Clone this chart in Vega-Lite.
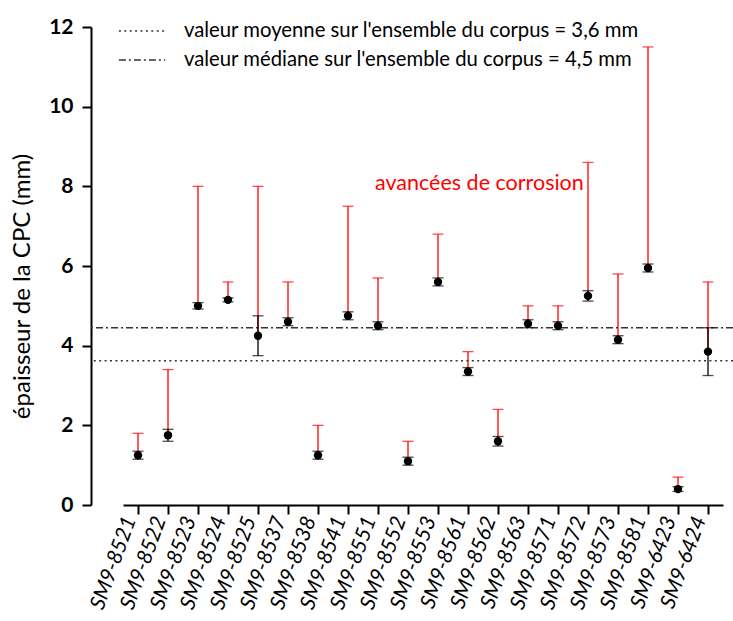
{
  "$schema": "https://vega.github.io/schema/vega-lite/v6.json",
  "width": 642,
  "height": 478,
  "autosize": {"type": "none"},
  "padding": {"left": 91, "top": 27, "right": 0, "bottom": 116},
  "background": "white",
  "config": {
    "font": "Lato",
    "view": {"stroke": null},
    "axis": {
      "domainColor": "black",
      "domainWidth": 2,
      "tickColor": "black",
      "tickWidth": 2,
      "labelColor": "black",
      "titleColor": "black",
      "grid": false
    }
  },
  "datasets": {
    "samples": [
      {"cat": "SM9-8521", "v": 1.25, "lo": 1.15, "hi": 1.35, "max": 1.8},
      {"cat": "SM9-8522", "v": 1.75, "lo": 1.6, "hi": 1.9, "max": 3.4},
      {"cat": "SM9-8523", "v": 5.0, "lo": 4.92, "hi": 5.08, "max": 8.0},
      {"cat": "SM9-8524", "v": 5.15, "lo": 5.1, "hi": 5.2, "max": 5.6},
      {"cat": "SM9-8525", "v": 4.25, "lo": 3.75, "hi": 4.75, "max": 8.0},
      {"cat": "SM9-8537", "v": 4.6, "lo": 4.5, "hi": 4.7, "max": 5.6},
      {"cat": "SM9-8538", "v": 1.25, "lo": 1.15, "hi": 1.35, "max": 2.0},
      {"cat": "SM9-8541", "v": 4.75, "lo": 4.65, "hi": 4.85, "max": 7.5},
      {"cat": "SM9-8551", "v": 4.5, "lo": 4.4, "hi": 4.6, "max": 5.7},
      {"cat": "SM9-8552", "v": 1.1, "lo": 1.0, "hi": 1.2, "max": 1.6},
      {"cat": "SM9-8553", "v": 5.6, "lo": 5.5, "hi": 5.7, "max": 6.8},
      {"cat": "SM9-8561", "v": 3.35, "lo": 3.25, "hi": 3.45, "max": 3.85},
      {"cat": "SM9-8562", "v": 1.6, "lo": 1.48, "hi": 1.72, "max": 2.4},
      {"cat": "SM9-8563", "v": 4.55, "lo": 4.45, "hi": 4.65, "max": 5.0},
      {"cat": "SM9-8571", "v": 4.5, "lo": 4.4, "hi": 4.6, "max": 5.0},
      {"cat": "SM9-8572", "v": 5.25, "lo": 5.12, "hi": 5.38, "max": 8.6},
      {"cat": "SM9-8573", "v": 4.15, "lo": 4.05, "hi": 4.25, "max": 5.8},
      {"cat": "SM9-8581", "v": 5.95, "lo": 5.85, "hi": 6.05, "max": 11.5},
      {"cat": "SM9-6423", "v": 0.4, "lo": 0.34, "hi": 0.46, "max": 0.7},
      {"cat": "SM9-6424", "v": 3.85, "lo": 3.25, "hi": 4.45, "max": 5.6}
    ],
    "refs": [
      {"label": "valeur moyenne sur l'ensemble du corpus = 3,6 mm", "v": 3.62},
      {"label": "valeur médiane sur l'ensemble du corpus = 4,5 mm", "v": 4.45}
    ],
    "note": [
      {"cat": "SM9-8551", "v": 8.05, "text": "avancées de corrosion"}
    ]
  },
  "layer": [
    {
      "data": {"name": "samples"},
      "mark": {"type": "rule", "color": "#ff0000", "strokeWidth": 1.3},
      "encoding": {
        "x": {
          "field": "cat", "type": "nominal", "sort": null,
          "scale": {"type": "point", "range": [32, 632]},
          "axis": {
            "title": null,
            "labelAngle": -70,
            "labelFontSize": 21,
            "labelFontStyle": "italic",
            "labelPadding": 3,
            "labelOffset": -8,
            "tickSize": 9
          }
        },
        "y": {
          "field": "v", "type": "quantitative",
          "scale": {"domain": [0, 12], "nice": false},
          "axis": {
            "title": "épaisseur de la CPC (mm)",
            "titleFontSize": 24,
            "titleFontWeight": "normal",
            "titlePadding": 14,
            "titleY": 259,
            "values": [0, 1, 2, 3, 4, 5, 6, 7, 8, 9, 10, 11, 12],
            "labelExpr": "datum.value % 2 == 0 ? datum.label : ''",
            "labelFontSize": 21,
            "labelFontWeight": "bold",
            "labelPadding": 9,
            "tickSize": {"condition": {"test": "datum.value % 2 == 0", "value": 9}, "value": 5}
          }
        },
        "y2": {"field": "max"}
      }
    },
    {
      "data": {"name": "samples"},
      "mark": {"type": "tick", "color": "#ff0000", "size": 11, "thickness": 1.3},
      "encoding": {
        "x": {"field": "cat", "type": "nominal", "sort": null},
        "y": {"field": "max", "type": "quantitative"}
      }
    },
    {
      "data": {"name": "refs"},
      "mark": {"type": "rule", "color": "#333333", "strokeWidth": 1.5},
      "encoding": {
        "y": {"field": "v", "type": "quantitative"},
        "strokeDash": {
          "field": "label", "type": "nominal", "sort": null,
          "scale": {"range": [[2, 3.4], [7, 3, 2, 3]]},
          "legend": {
            "orient": "none",
            "legendX": 39,
            "legendY": -8,
            "title": null,
            "symbolType": "M-2.1,0H2.1",
            "symbolSize": 484,
            "symbolStrokeColor": "#333333",
            "symbolStrokeWidth": 1.5,
            "labelFontSize": 20.3,
            "labelLimit": 0,
            "labelColor": "black",
            "labelOffset": 30,
            "rowPadding": 6
          }
        }
      }
    },
    {
      "data": {"name": "samples"},
      "mark": {"type": "rule", "color": "black", "strokeWidth": 1.3},
      "encoding": {
        "x": {"field": "cat", "type": "nominal", "sort": null},
        "y": {"field": "lo", "type": "quantitative"},
        "y2": {"field": "hi"}
      }
    },
    {
      "data": {"name": "samples"},
      "mark": {"type": "tick", "color": "black", "size": 11, "thickness": 1.3},
      "encoding": {
        "x": {"field": "cat", "type": "nominal", "sort": null},
        "y": {"field": "lo", "type": "quantitative"}
      }
    },
    {
      "data": {"name": "samples"},
      "mark": {"type": "tick", "color": "black", "size": 11, "thickness": 1.3},
      "encoding": {
        "x": {"field": "cat", "type": "nominal", "sort": null},
        "y": {"field": "hi", "type": "quantitative"}
      }
    },
    {
      "data": {"name": "samples"},
      "mark": {"type": "point", "filled": true, "color": "black", "size": 70, "opacity": 1},
      "encoding": {
        "x": {"field": "cat", "type": "nominal", "sort": null},
        "y": {"field": "v", "type": "quantitative"}
      }
    },
    {
      "data": {"name": "note"},
      "mark": {"type": "text", "color": "#ff0000", "fontSize": 21.5, "align": "left", "baseline": "middle", "dx": -3},
      "encoding": {
        "x": {"field": "cat", "type": "nominal", "sort": null},
        "y": {"field": "v", "type": "quantitative"},
        "text": {"field": "text"}
      }
    }
  ]
}
